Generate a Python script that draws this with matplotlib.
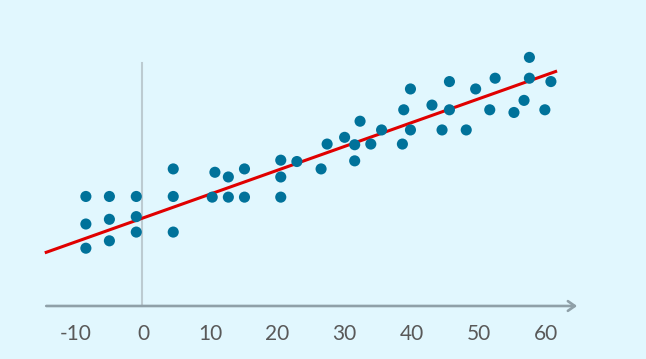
import numpy as np
import matplotlib
matplotlib.use("Agg")
import matplotlib.pyplot as plt

# scatter data
x_vals = [-8.5, -8.5, -8.5, -5.0, -5.0, -5.0, -1.0, -1.0, -1.0,
          4.5, 4.5, 4.5, 10.3, 10.7, 12.7, 12.7, 15.1, 15.1,
          20.5, 20.5, 20.5, 22.9, 26.5, 27.4, 30.0, 31.5, 31.5,
          32.3, 33.9, 35.5, 38.6, 38.8, 39.8, 39.8, 43.0, 44.5,
          45.6, 45.6, 48.1, 49.5, 51.6, 52.4, 55.2, 56.7, 57.5,
          57.5, 59.8, 60.7]
y_vals = [16.3, 12.2, 8.6, 16.3, 12.9, 9.7, 16.3, 13.3, 11.0,
          20.4, 16.3, 11.0, 16.2, 19.9, 19.2, 16.2, 20.4, 16.2,
          21.7, 19.2, 16.2, 21.5, 20.4, 24.1, 25.1, 24.0, 21.6,
          27.5, 24.1, 26.2, 24.1, 29.2, 32.3, 26.2, 29.9, 26.2,
          33.4, 29.2, 26.2, 32.3, 29.2, 33.9, 28.8, 30.6, 37.0,
          33.9, 29.2, 33.4]

# regression line
fit_slope = 0.355
fit_intercept = 13.1
fit_x = [-14.4, 61.4]

tick_vals = [-10, 0, 10, 20, 30, 40, 50, 60]

bg = "#E1F7FE"
fig = plt.figure(figsize=(6.46, 3.59), dpi=100, facecolor=bg)
ax = fig.add_axes([0, 0, 1, 1])
ax.set_facecolor(bg)
ax.set_xlim(-21.28, 74.85)
ax.set_ylim(-7.89, 45.54)
ax.axis("off")

# axis arrow
ax.annotate("", xy=(64.6, 0), xytext=(-14.4, 0),
            arrowprops=dict(arrowstyle="->,head_length=0.5,head_width=0.35",
                            color="#8FA0A8", lw=1.9, shrinkA=0, shrinkB=0))
# vertical line at zero
ax.plot([-0.15, -0.15], [0, 36.2], color="#BCCBD1", lw=1.5, zorder=1)

fx = np.array(fit_x)
ax.plot(fx, fit_slope * fx + fit_intercept, color="#E00000", lw=2.2, zorder=2)
ax.scatter(x_vals, y_vals, s=64, color="#00729A", edgecolors="none", zorder=3)

for t in tick_vals:
    ax.text(t, -4.2, str(t), ha="center", va="center", fontsize=15,
            family="Lato", color="#595959")

fig.savefig("out.png", dpi=100, facecolor=bg)
